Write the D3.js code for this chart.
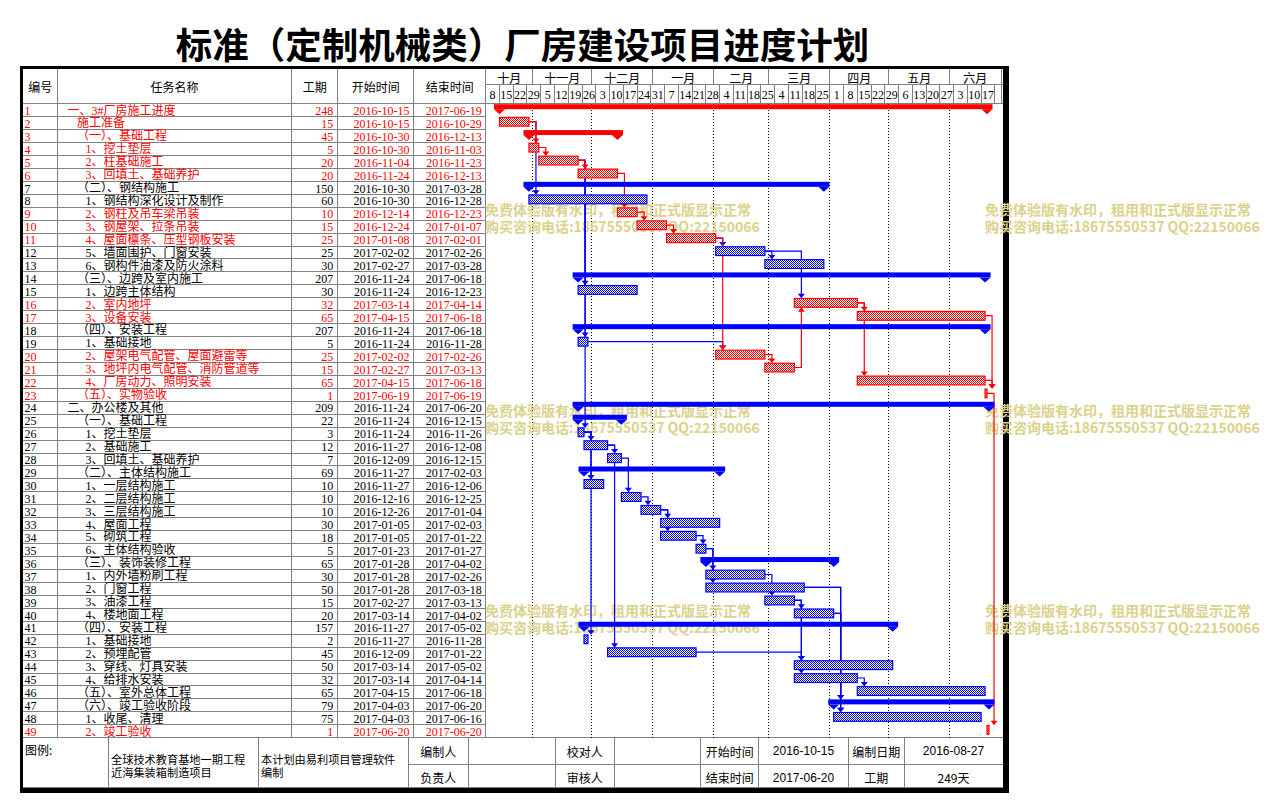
<!DOCTYPE html>
<html><head><meta charset="utf-8">
<script src="https://cdn.jsdelivr.net/npm/d3@7"></script>
<style>body{margin:0;background:#fff}svg{display:block}</style>
</head><body>
<svg id="c" width="1269" height="809"></svg>
<script>
const title = "标准（定制机械类）厂房建设项目进度计划";
const headers = ["编号","任务名称","工期","开始时间","结束时间"];
const monthLabels = ["十月","十一月","十二月","一月","二月","三月","四月","五月","六月"];
const ids = d3.range(1, 50);
const names = ["一、3#厂房施工进度","施工准备","（一）、基础工程","1、挖土垫层","2、柱基础施工","3、回填土、基础养护","（二）、钢结构施工","1、钢结构深化设计及制作","2、钢柱及吊车梁吊装","3、钢屋架、拉条吊装","4、屋面檩条、压型钢板安装","5、墙面围护、门窗安装","6、钢构件油漆及防火涂料","（三）、边跨及室内施工","1、边跨主体结构","2、室内地坪","3、设备安装","（四）、安装工程","1、基础接地","2、屋架电气配管、屋面避雷等","3、地坪内电气配管、消防管道等","4、厂房动力、照明安装","（五）、实物验收","二、办公楼及其他","（一）、基础工程","1、挖土垫层","2、基础施工","3、回填土、基础养护","（二）、主体结构施工","1、一层结构施工","2、二层结构施工","3、三层结构施工","4、屋面工程","5、砌筑工程","6、主体结构验收","（三）、装饰装修工程","1、内外墙粉刷工程","2、门窗工程","3、油漆工程","4、楼地面工程","（四）、安装工程","1、基础接地","2、预埋配管","3、穿线、灯具安装","4、给排水安装","（五）、室外总体工程","（六）、竣工验收阶段","1、收尾、清理","2、竣工验收"];
const levels = [0,1,1,2,2,2,1,2,2,2,2,2,2,1,2,2,2,1,2,2,2,2,1,0,1,2,2,2,1,2,2,2,2,2,2,1,2,2,2,2,1,2,2,2,2,1,1,2,2];
const durations = [248,15,45,5,20,20,150,60,10,15,25,25,30,207,30,32,65,207,5,25,15,65,1,209,22,3,12,7,69,10,10,10,30,18,5,65,30,50,15,20,157,2,45,50,32,65,79,75,1];
const starts = ["2016-10-15","2016-10-15","2016-10-30","2016-10-30","2016-11-04","2016-11-24","2016-10-30","2016-10-30","2016-12-14","2016-12-24","2017-01-08","2017-02-02","2017-02-27","2016-11-24","2016-11-24","2017-03-14","2017-04-15","2016-11-24","2016-11-24","2017-02-02","2017-02-27","2017-04-15","2017-06-19","2016-11-24","2016-11-24","2016-11-24","2016-11-27","2016-12-09","2016-11-27","2016-11-27","2016-12-16","2016-12-26","2017-01-05","2017-01-05","2017-01-23","2017-01-28","2017-01-28","2017-01-28","2017-02-27","2017-03-14","2016-11-27","2016-11-27","2016-12-09","2017-03-14","2017-03-14","2017-04-15","2017-04-03","2017-04-03","2017-06-20"];
const ends = ["2017-06-19","2016-10-29","2016-12-13","2016-11-03","2016-11-23","2016-12-13","2017-03-28","2016-12-28","2016-12-23","2017-01-07","2017-02-01","2017-02-26","2017-03-28","2017-06-18","2016-12-23","2017-04-14","2017-06-18","2017-06-18","2016-11-28","2017-02-26","2017-03-13","2017-06-18","2017-06-19","2017-06-20","2016-12-15","2016-11-26","2016-12-08","2016-12-15","2017-02-03","2016-12-06","2016-12-25","2017-01-04","2017-02-03","2017-01-22","2017-01-27","2017-04-02","2017-02-26","2017-03-18","2017-03-13","2017-04-02","2017-05-02","2016-11-28","2017-01-22","2017-05-02","2017-04-14","2017-06-18","2017-06-20","2017-06-16","2017-06-20"];
const criticalIds = [1,2,3,4,5,6,9,10,11,16,17,20,21,22,23,49];
const summaryIds = [1,3,7,14,18,24,25,29,36,41,47];
const links = [[2,4],[2,8],[4,5],[5,6],[5,15],[5,19],[5,26],[6,9],[9,10],[10,11],[11,12],[11,20],[12,13],[12,16],[19,20],[20,21],[21,16],[16,17],[16,22],[17,23],[22,23],[23,49],[26,27],[26,30],[26,42],[27,28],[27,43],[28,31],[31,32],[32,33],[32,34],[34,35],[35,37],[35,38],[37,39],[39,40],[39,44],[39,45],[43,44],[45,46],[38,47],[38,48],[40,47],[40,48]];
const legendLabel = "图例:";
const projectLines = ["全球技术教育基地一期工程", "近海集装箱制造项目"];
const softwareLines = ["本计划由易利项目管理软件", "编制"];
const footTop = ["编制人","","校对人","","开始时间","2016-10-15","编制日期","2016-08-27"];
const footBottom = ["负责人","","审核人","","结束时间","2017-06-20","工期","249天"];
const watermark = ["免费体验版有水印，租用和正式版显示正常","购买咨询电话:18675550537 QQ:22150066"];

const CJK = "'Noto Sans CJK SC', sans-serif";
const SER = "'Liberation Serif', 'Noto Sans CJK SC', serif";
const RED = "#ff0000", BLUE = "#0000ff", GRID = "#808080";

const svg = d3.select("#c");
const parse = d3.utcParse("%Y-%m-%d");
const day = d3.utcDay;
const x = d3.scaleTime().domain([parse("2016-10-08"), parse("2017-06-26")]).range([485.7, 485.7 + 261 * 1.966]);
const y = d3.scaleBand().domain(ids).range([103.7, 737.7]);

const tasks = ids.map((id, i) => ({
  id, name: names[i], level: levels[i], dur: durations[i],
  s: parse(starts[i]), e: parse(ends[i]), sTxt: starts[i], eTxt: ends[i],
  crit: criticalIds.includes(id), sum: summaryIds.includes(id)
}));
const byId = new Map(tasks.map(t => [t.id, t]));

const defs = svg.append("defs");
[["pr", RED], ["pb", BLUE]].forEach(([id, c]) => {
  const p = defs.append("pattern").attr("id", id).attr("width", 2).attr("height", 2).attr("patternUnits", "userSpaceOnUse");
  p.append("rect").attr("width", 2).attr("height", 2).attr("fill", "#fff");
  p.append("rect").attr("width", 1).attr("height", 1).attr("fill", c);
  p.append("rect").attr("x", 1).attr("y", 1).attr("width", 1).attr("height", 1).attr("fill", c);
});

// title
svg.append("text").attr("x", 522.5).attr("y", 43.5).attr("text-anchor", "middle").attr("dominant-baseline", "central")
  .attr("font-family", CJK).attr("font-weight", 700).attr("font-size", 36.5).text(title);

// frame
svg.append("rect").attr("x", 20).attr("y", 66).attr("width", 989).attr("height", 727).attr("fill", "#000");
svg.append("rect").attr("x", 23).attr("y", 69).attr("width", 980).attr("height", 718.5).attr("fill", "#fff");

const g = svg.append("g").attr("shape-rendering", "crispEdges");
const line = (x1, y1, x2, y2, c = GRID) => g.append("line").attr("x1", x1).attr("y1", y1).attr("x2", x2).attr("y2", y2).attr("stroke", c).attr("stroke-width", 1);

const colX = [23, 57.3, 291.7, 337.7, 413.7, 485.7];
const gRight = 1001;
colX.slice(1).forEach(cx => line(cx, 69, cx, 737.7));
ids.forEach(id => line(23, y(id), 485.7, y(id)));
line(23, 103.7, 1003, 103.7);
line(23, 737.7, 1003, 737.7);
line(485.7, 84.3, 1003, 84.3);
line(gRight, 69, gRight, 103.7);

headers.forEach((h, i) => {
  svg.append("text").attr("x", (colX[i] + colX[i + 1]) / 2).attr("y", 86.5).attr("text-anchor", "middle")
    .attr("dominant-baseline", "central").attr("font-family", CJK).attr("font-size", 12).text(h);
});

// time header
const months = x.ticks(d3.utcMonth.every(1)).filter(d => x(d) > 486);
const mEdges = [485.7, ...months.map(x), gRight];
months.forEach(m => {
  line(x(m), 69, x(m), 84.3);
  g.append("line").attr("x1", x(m)).attr("y1", 104).attr("x2", x(m)).attr("y2", 737.7)
    .attr("stroke", "#000").attr("stroke-dasharray", "1,2");
});
monthLabels.forEach((m, i) => {
  svg.append("text").attr("x", (mEdges[i] + mEdges[i + 1]) / 2).attr("y", 77).attr("text-anchor", "middle")
    .attr("dominant-baseline", "central").attr("font-family", CJK).attr("font-size", 12).text(m);
});
const weeks = d3.utcSaturday.range(parse("2016-10-08"), parse("2017-06-25"));
weeks.forEach((w, i) => {
  if (i > 0) line(x(w), 84.3, x(w), 103.7);
  const nx = day.offset(w, 7);
  if (x(nx) <= gRight) {
    svg.append("text").attr("x", (x(w) + x(nx)) / 2).attr("y", 95).attr("text-anchor", "middle")
      .attr("dominant-baseline", "central").attr("font-family", SER).attr("font-size", 12).text(d3.utcFormat("%-d")(w));
  }
});

// rows text
tasks.forEach(t => {
  const top = y(t.id), col = t.crit ? RED : "#000";
  const tx = (xx, v, anchor, fam, dy) => svg.append("text").attr("x", xx).attr("y", top + dy).attr("text-anchor", anchor)
    .attr("dominant-baseline", "central").attr("font-family", fam).attr("font-size", 12).attr("fill", col).text(v);
  tx(24.5, t.id, "start", SER, 7.2);
  tx([67.5, 77, 85.5][t.level], t.name, "start", SER, 6.8);
  tx(333.3, t.dur, "end", SER, 7.2);
  tx(409.5, t.sTxt, "end", SER, 7.2);
  tx(481.7, t.eTxt, "end", SER, 7.2);
});

// footer
const fX = [23, 108.3, 258.3, 408.3, 468.3, 555.7, 614, 700.7, 758.7, 848.3, 904, 1003];
fX.slice(1, -1).forEach(fx => line(fx, 737.7, fx, 787));
line(408.3, 764, 1003, 764);
const ft = (xx, yy, v, anchor = "middle", fam = CJK, fs = 12) => svg.append("text").attr("x", xx).attr("y", yy).attr("text-anchor", anchor)
  .attr("dominant-baseline", "central").attr("font-family", fam).attr("font-size", fs).text(v);
ft(25, 749, legendLabel, "start");
const multi = (xx, lines, y0, dy, fs, attrs = {}) => {
  const t = svg.append("text").attr("font-family", CJK).attr("font-size", fs);
  Object.entries(attrs).forEach(([k, v]) => t.attr(k, v));
  lines.forEach((l, k) => t.append("tspan").attr("x", xx).attr("y", y0 + k * dy).attr("dominant-baseline", "central").text(l));
  return t;
};
multi(111, projectLines, 758.5, 13.5, 11.2);
multi(261, softwareLines, 758.5, 13.5, 11.2);
const isNum = v => /^[0-9]{4}-/.test(v);
footTop.forEach((v, i) => {
  const cx = (fX[i + 3] + fX[i + 4]) / 2;
  if (v) ft(cx, 751, v, "middle", isNum(v) ? "'Liberation Sans', sans-serif" : CJK);
  const b = footBottom[i];
  if (b) ft(cx, 777.5, b, "middle", isNum(b) ? "'Liberation Sans', sans-serif" : CJK);
});

// watermark
[208.5, 409.5, 609.5].forEach(wy => [485, 985].forEach(wx => {
  multi(wx, watermark, wy, 17.5, 14, { "font-weight": 700, "fill": "#dbd28c" });
}));

// links
const lg = svg.append("g");
const sortedLinks = links.map(([p, s]) => ({ p: byId.get(p), s: byId.get(s) }))
  .map(l => ({ ...l, crit: l.p.crit && l.s.crit }))
  .sort((a, b) => a.crit - b.crit);
sortedLinks.forEach(({ p, s, crit }) => {
  const c = crit ? RED : BLUE;
  const px = x(day.offset(p.e, 1)), py = y(p.id) + 5;
  const sx = x(s.s) + 7;
  const down = y(s.id) > y(p.id);
  const ty = down ? y(s.id) + 0.5 : y(s.id) + 9.5;
  lg.append("path").attr("d", `M${px},${py}H${sx}V${down ? ty - 3 : ty + 3}`).attr("fill", "none").attr("stroke", c).attr("stroke-width", 1.2);
  const ay = down ? ty - 4.5 : ty + 4.5;
  lg.append("path").attr("d", `M${sx - 3.5},${ay}H${sx + 3.5}L${sx},${ty}Z`).attr("fill", c);
});

// bars
const bg = svg.append("g");
tasks.forEach(t => {
  const top = y(t.id), c = t.crit ? RED : BLUE;
  const x0 = x(t.s), x1 = x(day.offset(t.e, 1));
  if (t.sum) {
    bg.append("rect").attr("x", x0 - 5.5).attr("y", top + 0.5).attr("width", x1 - x0 + 11).attr("height", 5).attr("fill", c);
    [x0, x1].forEach(cx => bg.append("path").attr("d", `M${cx - 5.5},${top + 5.5}H${cx + 5.5}L${cx},${top + 10.5}Z`).attr("fill", c));
  } else {
    bg.append("rect").attr("x", x0).attr("y", top + 0.7).attr("width", x1 - x0).attr("height", 8.8)
      .attr("fill", t.crit ? "url(#pr)" : "url(#pb)").attr("stroke", c).attr("stroke-width", 1.2);
  }
});
</script>
</body></html>
